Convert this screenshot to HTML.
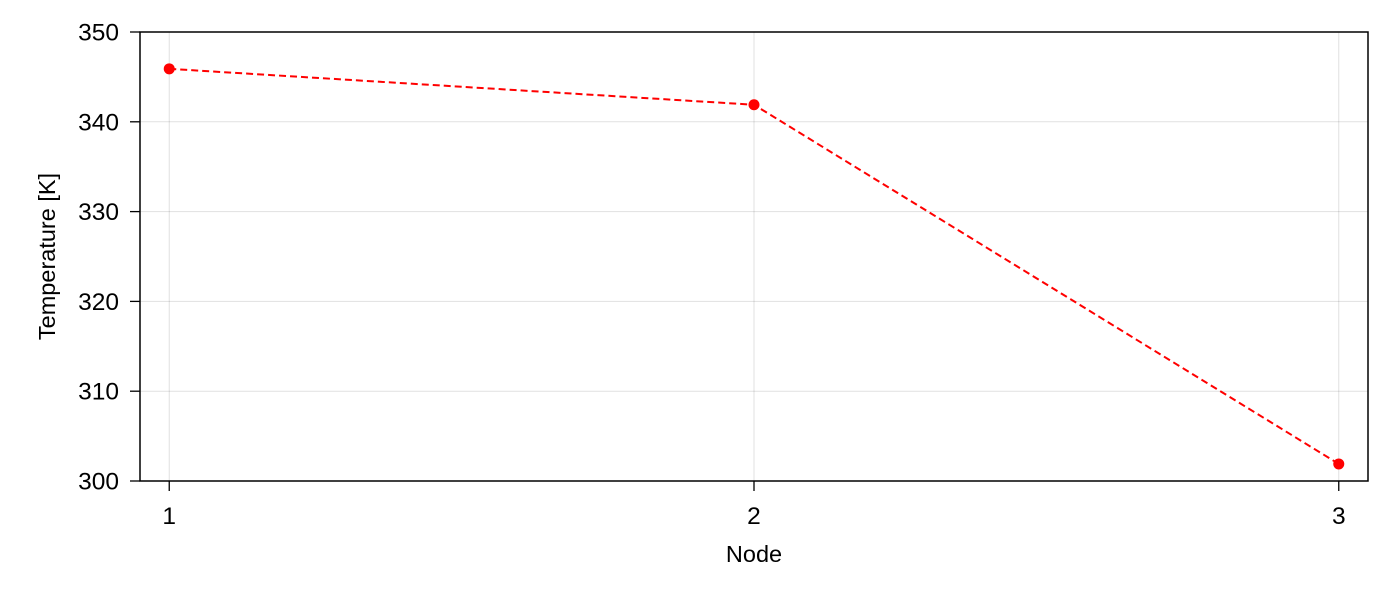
<!DOCTYPE html>
<html><head><meta charset="utf-8"><style>
body{margin:0;background:#fff;}
svg{display:block;font-family:"Liberation Sans",sans-serif;}
</style></head><body>
<svg id="chart" width="1400" height="600"></svg>
<script>
const categories=[1,2,3];
const temperatures=[345.9,341.9,301.9];
const yTicks=[300,310,320,330,340,350];
const xTicks=[1,2,3];
const NS="http://www.w3.org/2000/svg";
const svg=document.getElementById('chart');
const L=140,R=1368,T=32,B=481;
const xMin=0.95,xMax=3.05,yMin=300,yMax=350;
const xs=v=>L+(v-xMin)/(xMax-xMin)*(R-L);
const ys=v=>B-(v-yMin)/(yMax-yMin)*(B-T);
function mk(tag,attrs,parent){const e=document.createElementNS(NS,tag);for(const k in attrs)e.setAttribute(k,attrs[k]);(parent||svg).appendChild(e);return e;}
const grid=mk('g',{});


yTicks.forEach(t=>{mk('line',{x1:L,x2:R,y1:ys(t),y2:ys(t),stroke:'#000','stroke-opacity':0.12,'stroke-width':1},grid);});
xTicks.forEach(t=>{mk('line',{x1:xs(t),x2:xs(t),y1:T,y2:B,stroke:'#000','stroke-opacity':0.12,'stroke-width':1},grid);});
const frame=mk('rect',{x:L,y:T,width:R-L,height:B-T,fill:'none',stroke:'#000','stroke-width':1.5});


yTicks.forEach(t=>{
 mk('line',{x1:L-10,x2:L,y1:ys(t),y2:ys(t),stroke:'#000','stroke-width':1.3});
 const tx=mk('text',{x:L-21,y:ys(t)+8.5,'text-anchor':'end','font-size':24.5,fill:'#000'});
 tx.textContent=t;
 
 
});
xTicks.forEach(t=>{
 mk('line',{x1:xs(t),x2:xs(t),y1:B,y2:B+10,stroke:'#000','stroke-width':1.3});
 const tx=mk('text',{x:xs(t),y:B+43,'text-anchor':'middle','font-size':24.5,fill:'#000'});
 tx.textContent=t;
 
 
});
const xl=mk('text',{x:(L+R)/2,y:562,'text-anchor':'middle','font-size':23.5,fill:'#000'});
xl.textContent='Node';


const yl=mk('text',{x:0,y:0,'text-anchor':'middle','font-size':23.5,fill:'#000',transform:`translate(55,${(T+B)/2}) rotate(-90)`});
yl.textContent='Temperature [K]';


const pts=categories.map((c,i)=>xs(c)+','+ys(temperatures[i])).join(' ');
const line=mk('polyline',{points:pts,fill:'none',stroke:'#ff0000','stroke-width':2,'stroke-dasharray':'7 4'});


categories.forEach((c,i)=>{
 const p=mk('circle',{cx:xs(c),cy:ys(temperatures[i]),r:5.5,fill:'#ff0000'});
 
 
});
</script>
</body></html>
